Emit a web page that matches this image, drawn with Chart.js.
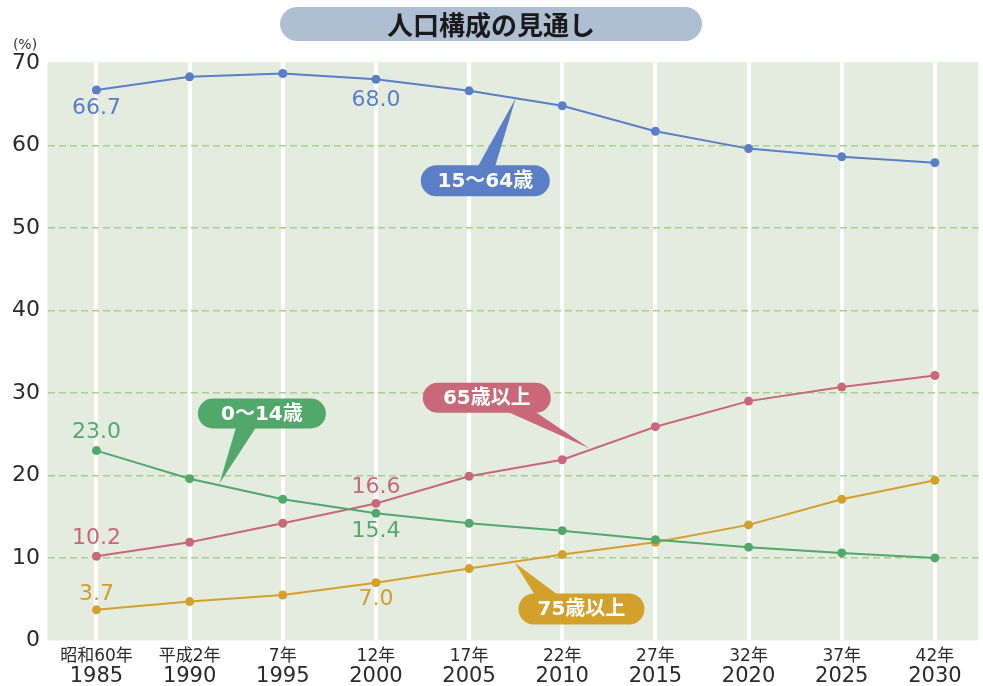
<!DOCTYPE html>
<html><head><meta charset="utf-8">
<script src="https://cdn.jsdelivr.net/npm/chart.js@4/dist/chart.umd.min.js"></script>
<style>html,body{margin:0;padding:0;background:#fff}#wrap{width:983px;height:686px}</style>
</head><body><div id="wrap"><canvas id="c" width="983" height="686"></canvas></div>
<script>
const years = [1985, 1990, 1995, 2000, 2005, 2010, 2015, 2020, 2025, 2030];
const eraLabels = ['昭和60年', '平成2年', '7年', '12年', '17年', '22年', '27年', '32年', '37年', '42年'];
const yTicks = [0, 10, 20, 30, 40, 50, 60, 70];
const age15to64 = [66.7, 68.3, 68.7, 68.0, 66.6, 64.8, 61.7, 59.6, 58.6, 57.9];
const age0to14  = [23.0, 19.6, 17.1, 15.4, 14.2, 13.3, 12.2, 11.3, 10.6, 10.0];
const age65plus = [10.2, 11.9, 14.2, 16.6, 19.9, 21.9, 25.9, 29.0, 30.7, 32.1];
const age75plus = [3.7, 4.7, 5.5, 7.0, 8.7, 10.4, 11.9, 14.0, 17.1, 19.4];
const seriesNames = ['15〜64歳', '0〜14歳', '65歳以上', '75歳以上'];
const titleText = '人口構成の見通し';
const unitText = '(%)';

const FONT = '"DejaVu Sans", "Noto Sans CJK JP", sans-serif';
const FONT_JP = '"Noto Sans CJK JP", sans-serif';
const COLORS = ['#5b7fc6', '#52a86b', '#c86878', '#d3a02c'];
const LABEL_COLORS = ['#5a7ec6', '#55a86c', '#c8677a', '#d09e2c'];
const X_MIN = 1982.40, X_MAX = 2032.34;

function ds(label, data, color) {
  return {
    label, data: years.map((x, i) => ({x, y: data[i]})),
    borderColor: color, backgroundColor: color,
    pointBackgroundColor: color, pointBorderColor: color,
    pointRadius: 4.5, pointBorderWidth: 0, borderWidth: 2, tension: 0,
    xAxisID: 'x', yAxisID: 'y'
  };
}

// value labels: [series index, point index, vertical offset px]
const valueLabels = [
  [0, 0, 18], [0, 3, 21],
  [1, 0, -18], [1, 3, 18],
  [2, 0, -18], [2, 3, -16],
  [3, 0, -16], [3, 3, 17]
];

// callouts: series index, pill centre (year, value), size, tail base offsets, tail tip (year, value)
const callouts = [
  {s: 0, cx: 2005.87, cy: 55.7, w: 129, h: 31, side: 'top', b1: -9, b2: 9, tx: 2007.5, ty: 65.7},
  {s: 1, cx: 1993.88, cy: 27.5, w: 128, h: 30, side: 'bottom', b1: -25, b2: -4, tx: 1991.6, ty: 19.0},
  {s: 2, cx: 2005.95, cy: 29.4, w: 128, h: 30, side: 'bottom', b1: 14, b2: 44, tx: 2011.45, ty: 23.3},
  {s: 3, cx: 2011.03, cy: 3.8, w: 126, h: 31, side: 'top', b1: -45, b2: -20, tx: 2007.45, ty: 9.4}
];

function pill(ctx, x, y, w, h, color) {
  ctx.beginPath();
  ctx.roundRect(x, y, w, h, h / 2);
  ctx.fillStyle = color;
  ctx.fill();
}

const overlay = {
  id: 'overlay',
  beforeDraw(chart) {
    const {ctx, chartArea: a} = chart;
    ctx.save();
    ctx.fillStyle = '#e3ecdf';
    ctx.fillRect(a.left - 0.5, a.top - 0.6, a.right - a.left + 0.5, a.bottom - a.top + 0.6);
    pill(ctx, 280, 7, 422, 34, '#afbfd3');
    ctx.fillStyle = '#1a1a1a';
    ctx.font = 'bold 26px ' + FONT_JP;
    ctx.textAlign = 'center';
    ctx.textBaseline = 'middle';
    ctx.fillText(titleText, 491, 25);
    ctx.fillStyle = '#333';
    ctx.font = '14px ' + FONT;
    ctx.fillText(unitText, 25, 45);
    ctx.restore();
  },
  afterDatasetsDraw(chart) {
    const {ctx, scales} = chart;
    ctx.save();
    ctx.textAlign = 'center';
    ctx.textBaseline = 'middle';
    ctx.font = '22px ' + FONT;
    valueLabels.forEach(([s, i, dy]) => {
      const p = chart.getDatasetMeta(s).data[i];
      ctx.fillStyle = LABEL_COLORS[s];
      ctx.fillText(chart.data.datasets[s].data[i].y.toFixed(1), p.x, p.y + dy);
    });
    callouts.forEach(c => {
      const cx = scales.x.getPixelForValue(c.cx);
      const cy = scales.y.getPixelForValue(c.cy);
      const tx = scales.x.getPixelForValue(c.tx);
      const ty = scales.y.getPixelForValue(c.ty);
      const color = COLORS[c.s];
      const by = c.side === 'top' ? cy - c.h / 2 + 4 : cy + c.h / 2 - 4;
      ctx.beginPath();
      ctx.moveTo(cx + c.b1, by);
      ctx.lineTo(cx + c.b2, by);
      ctx.lineTo(tx, ty);
      ctx.closePath();
      ctx.fillStyle = color;
      ctx.fill();
      pill(ctx, cx - c.w / 2, cy - c.h / 2, c.w, c.h, color);
      ctx.fillStyle = '#ffffff';
      ctx.font = 'bold 20px ' + FONT;
      ctx.fillText(seriesNames[c.s], cx, cy + 1);
    });
    ctx.restore();
  }
};

new Chart(document.getElementById('c'), {
  type: 'line',
  data: {
    datasets: [
      ds(seriesNames[0], age15to64, COLORS[0]),
      ds(seriesNames[1], age0to14, COLORS[1]),
      ds(seriesNames[2], age65plus, COLORS[2]),
      ds(seriesNames[3], age75plus, COLORS[3])
    ]
  },
  options: {
    responsive: false,
    animation: false,
    layout: {padding: {top: 62.8, left: 0, right: 0, bottom: 0}},
    plugins: {legend: {display: false}, tooltip: {enabled: false}, title: {display: false}},
    scales: {
      x: {
        type: 'linear', position: 'bottom', weight: 0, min: X_MIN, max: X_MAX,
        afterBuildTicks: a => { a.ticks = years.map(v => ({value: v})); },
        afterFit: a => { a.height = 24; },
        grid: {color: '#ffffff', lineWidth: 4, drawTicks: false},
        border: {display: false},
        ticks: {padding: 6, color: '#2a2a2a', autoSkip: false, maxRotation: 0,
          font: {size: 17, family: FONT},
          callback: v => { const i = years.indexOf(v); return i >= 0 ? eraLabels[i] : ''; }}
      },
      x2: {
        type: 'linear', position: 'bottom', weight: 1, min: X_MIN, max: X_MAX,
        afterBuildTicks: a => { a.ticks = years.map(v => ({value: v})); },
        afterFit: a => { a.height = 21.6; },
        grid: {display: false, drawTicks: false},
        border: {display: false},
        ticks: {padding: 0, color: '#2a2a2a', autoSkip: false, maxRotation: 0,
          font: {size: 21, family: FONT},
          callback: v => String(v)}
      },
      y: {
        min: 0, max: 70, z: -1,
        afterBuildTicks: a => { a.ticks = yTicks.map(v => ({value: v})); },
        afterFit: a => { a.width = 48; },
        grid: {
          color: c => (c.tick && (c.tick.value === 0 || c.tick.value === 70)) ? 'rgba(0,0,0,0)' : '#a7cf8a',
          lineWidth: 1.5, drawTicks: false
        },
        border: {display: false, dash: [7, 4]},
        ticks: {padding: 8, color: '#2a2a2a', font: {size: 22, family: FONT}}
      }
    }
  },
  plugins: [overlay]
});
</script>
</body></html>
